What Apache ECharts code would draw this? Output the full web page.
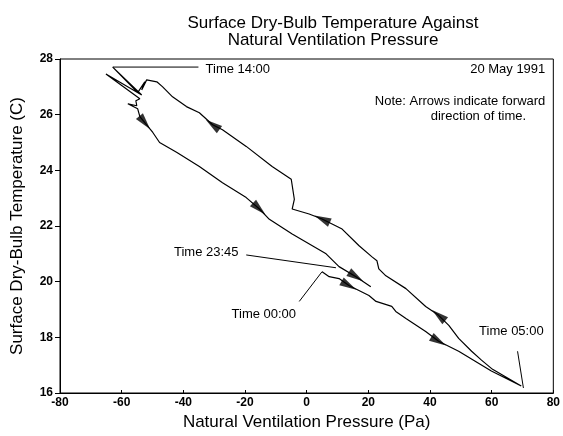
<!DOCTYPE html>
<html>
<head>
<meta charset="utf-8">
<script src="https://cdn.jsdelivr.net/npm/echarts@6/dist/echarts.min.js"></script>
<style>
  html, body { margin: 0; padding: 0; background: #fff; }
  #chart { width: 563px; height: 436px; }
</style>
</head>
<body>
<div id="chart"></div>
<script>
// path in time order: 00:00 -> 05:00 -> 14:00 -> 23:45
var pathX = [5.0, 7.3, 10.5, 13.7, 20.2, 22.5, 27.6, 28.9, 32.2, 38.6, 42.8, 49.3, 59.9, 69.6,
    60.3, 56.7, 53.5, 49.3, 46.1, 42.8, 38.6, 32.2, 25.7, 23.4, 22.8, 21.2, 17.0, 11.5, 5.0, 0.8,
    -4.7, -4.0, -5.0, -11.2, -19.6, -27.3, -30.5, -34.8, -39.0, -43.5, -46.7, -48.6, -51.9,
    -53.5, -52.5, -54.8, -62.9, -53.5, -65.1, -54.1, -55.4, -55.1, -58.0, -54.8, -54.1,
    -52.5, -49.9, -47.7, -42.2, -34.8, -27.3, -19.6, -15.4, -12.1, -4.7, 6.3, 10.5, 16.0, 20.8];
var pathY = [20.36, 20.18, 20.11, 19.86, 19.50, 19.29, 19.11, 18.93, 18.68, 18.21, 17.86, 17.50, 16.79, 16.25,
    16.85, 17.18, 17.50, 17.96, 18.43, 18.79, 19.11, 19.75, 20.21, 20.46, 20.75, 20.89, 21.29, 21.89, 22.25, 22.43,
    22.61, 22.96, 23.68, 24.14, 24.86, 25.46, 25.64, 26.07, 26.29, 26.64, 27.00, 27.18, 27.25,
    26.89, 27.18, 26.79, 27.71, 26.71, 27.46, 26.57, 26.50, 26.32, 26.39, 26.21, 25.93,
    25.71, 25.36, 25.00, 24.65, 24.14, 23.55, 23.02, 22.62, 22.24, 21.71, 21.00, 20.54, 20.18, 19.82];

// points of the path that carry a direction arrow
var arrowIdx = [3, 10, 19, 28, 36, 55, 62, 67];

var xTicks = { min: -80, max: 80, step: 20 };
var yTicks = { min: 16, max: 28, step: 2 };

var labelText = ['Time 14:00', 'Time 23:45', 'Time 00:00', 'Time 05:00'];
var labelAt = [[-32.8, 27.61], [-22.1, 21.04], [-13.9, 18.82], [66.4, 18.21]];
var labelAlign = ['left', 'right', 'center', 'center'];
var leaderFrom = [[-35.1, 27.71], [-19.6, 20.96], [-2.4, 19.29], [68.4, 17.5]];
var leaderTo = [[-62.9, 27.71], [9.5, 20.5], [5.0, 20.36], [70.3, 16.18]];

var noteText = ['20 May 1991', 'Note: Arrows indicate forward', 'direction of time.'];
var noteAt = [[77.4, 27.61], [77.4, 26.47], [55.7, 25.94]];
var noteAlign = ['right', 'right', 'center'];

var FONT = 'Arial, "Liberation Sans", sans-serif';

var pathData = pathX.map(function (x, i) { return [x, pathY[i]]; });

var series = [{
    type: 'line',
    data: pathData,
    symbol: 'none',
    lineStyle: { color: '#000', width: 1.2 },
    animation: false
}];
for (var i = 0; i < leaderFrom.length; i++) {
    series.push({
        type: 'line',
        data: [leaderFrom[i], leaderTo[i]],
        symbol: 'none',
        lineStyle: { color: '#000', width: 1 },
        animation: false
    });
}
series.push({
    type: 'scatter',
    id: 'arrows',
    data: arrowIdx.map(function (k) { return [pathX[k], pathY[k]]; }),
    symbol: 'triangle',
    symbolSize: [9, 17],
    itemStyle: { color: '#000' },
    animation: false
});

var myChart = echarts.init(document.getElementById('chart'));
var option = {
    backgroundColor: '#fff',
    title: {
        text: 'Surface Dry-Bulb Temperature Against\nNatural Ventilation Pressure',
        left: 328,
        top: 10,
        textAlign: 'center',
        textStyle: { fontFamily: FONT, fontSize: 17, fontWeight: 'normal', color: '#000', lineHeight: 17 }
    },
    grid: { left: 60, right: 8, top: 59, bottom: 41, show: true, borderColor: '#000', borderWidth: 1 },
    xAxis: {
        type: 'value',
        min: xTicks.min, max: xTicks.max, interval: xTicks.step,
        name: 'Natural Ventilation Pressure (Pa)',
        nameLocation: 'middle',
        nameGap: 21,
        nameTextStyle: { fontFamily: FONT, fontSize: 17, color: '#000' },
        axisLine: { onZero: false, lineStyle: { color: '#000', width: 1 } },
        axisTick: { inside: true, length: 3, lineStyle: { color: '#000' } },
        axisLabel: { fontFamily: FONT, fontSize: 12, fontWeight: 'bold', color: '#000', margin: 4 },
        splitLine: { show: false }
    },
    yAxis: {
        type: 'value',
        min: yTicks.min, max: yTicks.max, interval: yTicks.step,
        name: 'Surface Dry-Bulb Temperature (C)',
        nameLocation: 'middle',
        nameGap: 34,
        nameTextStyle: { fontFamily: FONT, fontSize: 17, color: '#000' },
        axisLine: { onZero: false, lineStyle: { color: '#000', width: 1 } },
        axisTick: { length: 5, lineStyle: { color: '#000' } },
        axisLabel: { fontFamily: FONT, fontSize: 12, fontWeight: 'bold', color: '#000', margin: 7 },
        splitLine: { show: false }
    },
    series: series
};
myChart.setOption(option);

// arrow directions and annotation texts need pixel positions
function px(p) { return myChart.convertToPixel({ gridIndex: 0 }, p); }

var rot = arrowIdx.map(function (k) {
    var a = px(pathData[k - 1]), b = px(pathData[k + 1]);
    var dx = b[0] - a[0], dy = b[1] - a[1];
    return Math.atan2(-dx, -dy) * 180 / Math.PI;
});

function textEl(str, at, align) {
    var p = px(at);
    return {
        type: 'text', x: p[0], y: p[1],
        style: { text: str, font: '13px ' + FONT, fill: '#000', align: align, verticalAlign: 'middle' }
    };
}
var graphic = [];
for (var j = 0; j < labelText.length; j++) {
    graphic.push(textEl(labelText[j], labelAt[j], labelAlign[j]));
}
for (var m = 0; m < noteText.length; m++) {
    graphic.push(textEl(noteText[m], noteAt[m], noteAlign[m]));
}

myChart.setOption({
    series: [{ id: 'arrows', data: arrowIdx.map(function (k, n) {
        return { value: [pathX[k], pathY[k]], symbolRotate: rot[n] };
    }) }],
    graphic: graphic
});
</script>
</body>
</html>
